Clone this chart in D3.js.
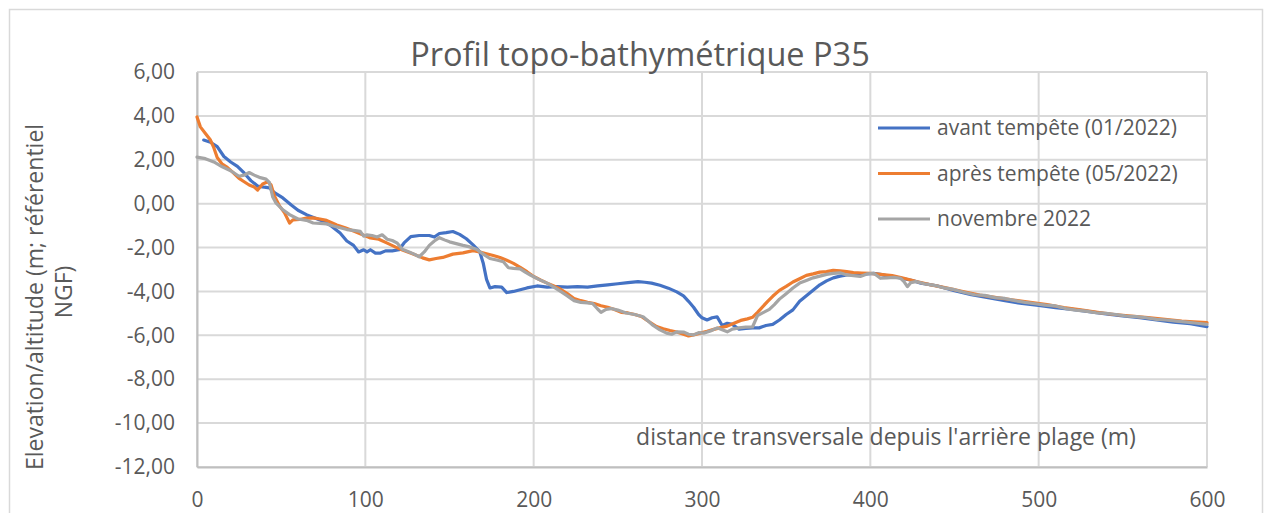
<!DOCTYPE html>
<html>
<head>
<meta charset="utf-8">
<script src="https://cdn.jsdelivr.net/npm/d3@7"></script>
<style>
  html, body { margin: 0; padding: 0; background: #fff; }
  svg { display: block; font-family: "Open Sans", "Noto Sans", sans-serif; }
</style>
</head>
<body>
<svg id="chart" width="1271" height="513"></svg>
<script>
// ---- DATA ----
const title = "Profil topo-bathymétrique P35";
const yAxisLabel = ["Elevation/altitude (m; référentiel", "NGF)"];
const xAxisLabel = "distance transversale depuis l'arrière plage (m)";
const seriesNames = ["avant tempête (01/2022)", "après tempête (05/2022)", "novembre 2022"];
const seriesColors = ["#4472C4", "#ED7D31", "#A5A5A5"];
const xTicks = [0, 100, 200, 300, 400, 500, 600];
const yTicks = [6, 4, 2, 0, -2, -4, -6, -8, -10, -12];

const avantDist = [4,8,12,16,20,24,28,32,36,40,43,46,51,56,60,65,73,79,85,89,93,96,99,101,103,106,109,112,116,120,123,127,132,138,141,144,148,152,156,160,164,168,170,172,174,177,181,184,188,192,196,202,208,214,220,226,232,238,244,250,256,262,266,270,275,280,285,289,292,295,298,300,303,306,309,312,315,318,322,326,330,334,338,342,346,350,354,358,362,366,370,374,378,382,386,390,394,398,402,406,410,414,420,425,430,440,450,460,470,480,490,500,510,520,530,540,550,560,570,580,590,600];
const avantElev = [2.9,2.8,2.6,2.15,1.9,1.7,1.4,1.05,0.8,0.75,0.72,0.5,0.26,-0.06,-0.3,-0.5,-0.74,-0.97,-1.34,-1.7,-1.9,-2.2,-2.1,-2.2,-2.1,-2.25,-2.25,-2.15,-2.15,-2.1,-1.79,-1.5,-1.45,-1.45,-1.52,-1.36,-1.32,-1.27,-1.4,-1.6,-1.88,-2.2,-2.7,-3.45,-3.84,-3.78,-3.8,-4.05,-4.0,-3.92,-3.84,-3.75,-3.8,-3.78,-3.8,-3.78,-3.8,-3.75,-3.7,-3.65,-3.6,-3.55,-3.58,-3.62,-3.72,-3.85,-4.02,-4.2,-4.45,-4.72,-5.05,-5.2,-5.3,-5.2,-5.16,-5.55,-5.45,-5.5,-5.72,-5.68,-5.66,-5.66,-5.55,-5.5,-5.3,-5.05,-4.84,-4.45,-4.2,-3.95,-3.7,-3.52,-3.38,-3.3,-3.25,-3.24,-3.24,-3.2,-3.18,-3.22,-3.29,-3.33,-3.42,-3.5,-3.62,-3.75,-3.97,-4.15,-4.28,-4.42,-4.55,-4.64,-4.74,-4.82,-4.92,-5.02,-5.12,-5.2,-5.3,-5.4,-5.47,-5.6];

const apresDist = [0,2,5,8,10,12,15,18,21,25,28,31,34,36,39,42,44,46,49,52,55,57,61,65,69,73,77,83,88,93,98,103,108,113,118,122,128,134,138,142,146,152,158,164,168,172,176,180,184,188,192,196,200,204,208,212,216,220,224,228,232,236,240,244,248,252,256,260,264,267,270,273,277,281,285,289,292,295,299,303,307,311,315,319,323,327,330,333,336,339,342,346,350,354,358,362,366,370,374,378,382,386,390,395,400,406,413,420,428,436,445,455,465,475,485,495,505,515,525,535,545,555,565,575,585,592,600];
const apresElev = [3.95,3.5,3.2,2.9,2.55,2.1,1.8,1.65,1.45,1.15,1.0,0.85,0.76,0.62,0.9,1.0,0.85,0.35,-0.1,-0.42,-0.88,-0.74,-0.72,-0.66,-0.65,-0.7,-0.76,-0.97,-1.1,-1.25,-1.4,-1.56,-1.62,-1.8,-1.98,-2.11,-2.28,-2.47,-2.56,-2.5,-2.45,-2.3,-2.24,-2.14,-2.2,-2.28,-2.36,-2.45,-2.58,-2.72,-2.9,-3.1,-3.32,-3.48,-3.62,-3.75,-3.9,-4.1,-4.32,-4.42,-4.5,-4.55,-4.65,-4.72,-4.82,-4.95,-4.98,-5.05,-5.14,-5.3,-5.45,-5.6,-5.7,-5.78,-5.85,-5.95,-6.03,-5.98,-5.9,-5.82,-5.73,-5.65,-5.58,-5.45,-5.32,-5.25,-5.18,-4.95,-4.7,-4.45,-4.22,-3.95,-3.77,-3.57,-3.42,-3.27,-3.2,-3.12,-3.1,-3.04,-3.06,-3.1,-3.14,-3.16,-3.18,-3.22,-3.28,-3.4,-3.56,-3.7,-3.84,-4.0,-4.16,-4.28,-4.39,-4.5,-4.6,-4.73,-4.84,-4.95,-5.05,-5.12,-5.19,-5.27,-5.35,-5.38,-5.42];

const novDist = [0,5,10,15,20,25,28,31,34,37,41,43,45,47,51,55,60,65,69,73,77,81,85,89,93,97,99,101,104,107,110,113,116,119,122,126,129,132,135,138,141,144,147,150,154,158,162,166,170,174,178,182,185,188,192,195,198,203,208,212,216,220,224,228,232,235,238,240,243,246,250,255,260,265,268,271,275,279,282,285,289,292,295,298,301,305,309,312,315,318,322,326,330,333,336,340,343,346,350,354,358,362,366,370,374,378,382,386,390,394,398,402,406,410,414,418,420,422,424,427,432,438,444,450,456,462,468,474,480,486,492,498,504,510,516,522,528,534,540,546,552,558,564,570,576,582,588,594,600];
const novElev = [2.12,2.05,1.9,1.68,1.5,1.25,1.3,1.42,1.3,1.2,1.12,0.97,0.3,0.02,-0.28,-0.5,-0.7,-0.76,-0.88,-0.9,-0.92,-1.02,-1.1,-1.18,-1.22,-1.26,-1.48,-1.42,-1.45,-1.52,-1.42,-1.62,-1.68,-1.8,-2.08,-2.2,-2.3,-2.42,-2.2,-1.9,-1.7,-1.55,-1.65,-1.74,-1.82,-1.9,-1.97,-2.08,-2.3,-2.5,-2.57,-2.65,-2.92,-2.95,-2.97,-3.12,-3.25,-3.45,-3.62,-3.8,-4.0,-4.2,-4.42,-4.5,-4.52,-4.55,-4.8,-4.95,-4.82,-4.78,-4.85,-4.98,-5.05,-5.15,-5.35,-5.55,-5.75,-5.9,-5.95,-5.84,-5.85,-5.95,-5.98,-5.88,-5.9,-5.8,-5.66,-5.75,-5.84,-5.72,-5.66,-5.63,-5.62,-5.1,-4.98,-4.82,-4.6,-4.35,-4.1,-3.84,-3.62,-3.5,-3.38,-3.3,-3.22,-3.18,-3.15,-3.25,-3.28,-3.32,-3.2,-3.17,-3.4,-3.38,-3.36,-3.4,-3.55,-3.78,-3.6,-3.55,-3.65,-3.72,-3.84,-3.92,-4.05,-4.15,-4.18,-4.28,-4.32,-4.42,-4.5,-4.56,-4.62,-4.66,-4.78,-4.85,-4.9,-4.97,-5.0,-5.05,-5.12,-5.15,-5.2,-5.27,-5.3,-5.35,-5.4,-5.45,-5.5];

// ---- CHART ----
const svg = d3.select("#chart");
const plot = {left: 197, right: 1207, top: 72, bottom: 467};
const textColor = "#595959";
const gridColor = "#D9D9D9";

// outer chart border
svg.append("rect")
  .attr("x", 9.5).attr("y", 9.5)
  .attr("width", 1253).attr("height", 520)
  .attr("fill", "#fff").attr("stroke", gridColor).attr("stroke-width", 1.5);

const x = d3.scaleLinear().domain([0, 600]).range([plot.left, plot.right]);
const y = d3.scaleLinear().domain([-12, 6]).range([plot.bottom, plot.top]);

// gridlines
const g = svg.append("g");
g.selectAll("line.hgrid").data(yTicks).join("line")
  .attr("class", "hgrid")
  .attr("x1", plot.left).attr("x2", plot.right)
  .attr("y1", d => y(d)).attr("y2", d => y(d))
  .attr("stroke", gridColor).attr("stroke-width", 2);
g.selectAll("line.vgrid").data(xTicks).join("line")
  .attr("class", "vgrid")
  .attr("x1", d => x(d)).attr("x2", d => x(d))
  .attr("y1", plot.top).attr("y2", plot.bottom)
  .attr("stroke", gridColor).attr("stroke-width", 2);

// y axis
const yAxis = d3.axisLeft(y).tickValues(yTicks).tickSize(0).tickPadding(22)
  .tickFormat(d => d3.format(".2f")(d).replace(".", ",").replace("−", "-"));
const ya = svg.append("g").attr("transform", `translate(${plot.left},0)`).call(yAxis);
ya.select(".domain").attr("stroke", "#BFBFBF").attr("stroke-width", 2);
ya.selectAll("text").attr("fill", textColor).style("font-size", "21px")
  .style("font-family", "'Open Sans', sans-serif");

// x axis
const xAxis = d3.axisBottom(x).tickValues(xTicks).tickSize(0).tickPadding(25)
  .tickFormat(d3.format("d"));
const xa = svg.append("g").attr("transform", `translate(0,${plot.bottom})`).call(xAxis);
xa.select(".domain").attr("stroke", "#BFBFBF").attr("stroke-width", 2);
xa.selectAll("text").attr("fill", textColor).style("font-size", "21px")
  .style("font-family", "'Open Sans', sans-serif");

// series
const series = [
  {name: seriesNames[0], color: seriesColors[0], dist: avantDist, elev: avantElev},
  {name: seriesNames[1], color: seriesColors[1], dist: apresDist, elev: apresElev},
  {name: seriesNames[2], color: seriesColors[2], dist: novDist, elev: novElev}
];
const line = d3.line().x(d => x(d[0])).y(d => y(d[1])).curve(d3.curveLinear);
svg.append("g").selectAll("path").data(series).join("path")
  .attr("d", s => line(s.dist.map((d, i) => [d, s.elev[i]])))
  .attr("fill", "none")
  .attr("stroke", s => s.color)
  .attr("stroke-width", 3.2)
  .attr("stroke-linejoin", "round")
  .attr("stroke-linecap", "round");

// title
svg.append("text")
  .attr("x", 640).attr("y", 66)
  .attr("text-anchor", "middle")
  .attr("fill", textColor)
  .style("font-size", "32.5px")
  .text(title);

// y label (two lines, rotated)
svg.append("text")
  .attr("transform", "translate(43,297) rotate(-90)")
  .attr("text-anchor", "middle")
  .attr("fill", textColor)
  .style("font-size", "23px")
  .text(yAxisLabel[0]);
svg.append("text")
  .attr("transform", "translate(72,292) rotate(-90)")
  .attr("text-anchor", "middle")
  .attr("fill", textColor)
  .style("font-size", "23px")
  .text(yAxisLabel[1]);

// x label (inside plot)
svg.append("text")
  .attr("x", 886).attr("y", 445)
  .attr("text-anchor", "middle")
  .attr("fill", textColor)
  .style("font-size", "23px")
  .text(xAxisLabel);

// legend
const lg = svg.append("g").selectAll("g").data(series).join("g")
  .attr("transform", (d, i) => `translate(878,${128 + i * 45.5})`);
lg.append("line").attr("x1", 0).attr("x2", 52).attr("y1", 0).attr("y2", 0)
  .attr("stroke", d => d.color).attr("stroke-width", 3);
lg.append("text").attr("x", 59).attr("y", 7)
  .attr("fill", textColor).style("font-size", "21px")
  .text(d => d.name);
</script>
</body>
</html>
